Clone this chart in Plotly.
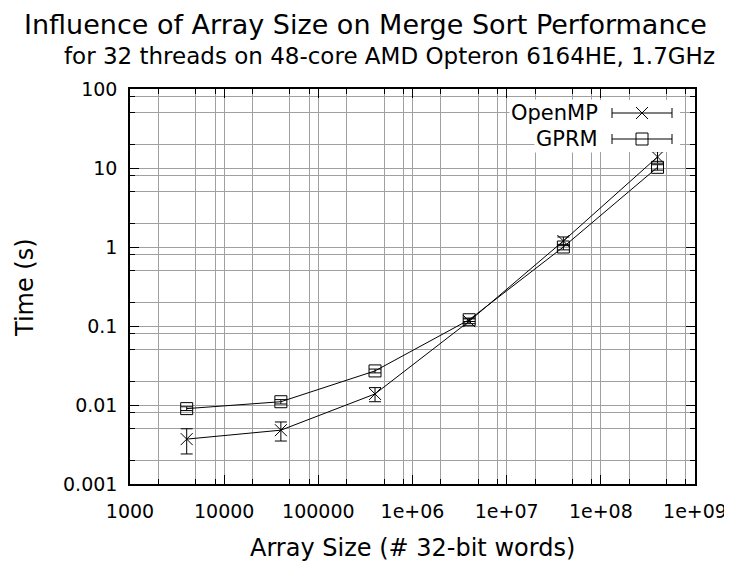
import plotly.graph_objects as go

# ---- data ----
array_sizes = [4000, 40000, 400000, 4000000, 40000000, 400000000]
openmp_time = [0.0037, 0.0048, 0.0138, 0.115, 1.19, 13.8]
openmp_err = [0.0013, 0.0013, 0.0028, 0.008, 0.15, 2.3]
gprm_time = [0.009, 0.011, 0.027, 0.12, 1.0, 10.2]
gprm_err = [0.0005, 0.0007, 0.0015, 0.006, 0.08, 0.8]

x_tickvals = [1e3, 1e4, 1e5, 1e6, 1e7, 1e8, 1e9]
x_ticktext = ["1000", "10000", "100000", "1e+06", "1e+07", "1e+08", "1e+09"]
y_tickvals = [0.001, 0.01, 0.1, 1, 10, 100]
y_ticktext = ["0.001", "0.01", "0.1", "1", "10", "100"]
minor_steps = [2, 5, 8]

x_minor = [m * 10 ** e for e in range(3, 9) for m in minor_steps]
y_minor = [m * 10.0 ** e for e in range(-3, 2) for m in minor_steps]

FONT = "DejaVu Sans"
GRID = "#a0a0a0"

# page body has an 8px margin; figure is sized to fit the 732x562 window
OFF = 8
FIG_W, FIG_H = 732 - OFF, 562 - OFF
# plot area in window pixels
L, R, T, B = 130, 695, 89, 484
W, H = R - L, B - T

fig = go.Figure()

fig.add_trace(go.Scatter(
    x=array_sizes, y=openmp_time, name="OpenMP", mode="lines+markers",
    line=dict(color="black", width=1),
    marker=dict(symbol="x-thin-open", size=12, color="black", line=dict(color="black", width=1)),
    error_y=dict(type="data", array=openmp_err, color="black", thickness=1, width=6),
    showlegend=False,
))
fig.add_trace(go.Scatter(
    x=array_sizes, y=gprm_time, name="GPRM", mode="lines+markers",
    line=dict(color="black", width=1),
    marker=dict(symbol="square-open", size=12, color="black", line=dict(color="black", width=1)),
    error_y=dict(type="data", array=gprm_err, color="black", thickness=1, width=6),
    showlegend=False,
))

axis_common = dict(
    type="log", showline=True, linecolor="black", linewidth=1.5, mirror="ticks",
    ticks="inside", ticklen=9, tickwidth=1, tickcolor="black",
    showgrid=True, gridcolor=GRID, gridwidth=1, zeroline=False, automargin=False,
    tickfont=dict(family=FONT, size=19, color="black"),
)

fig.update_xaxes(
    **axis_common, range=[3, 9], tickmode="array", tickvals=x_tickvals, ticktext=x_ticktext,
    minor=dict(tickmode="array", tickvals=x_minor, ticks="inside", ticklen=5,
               tickcolor="black", showgrid=True, gridcolor=GRID, gridwidth=1),
    ticklabelstandoff=9,
)
fig.update_yaxes(
    **axis_common, range=[-3, 2], tickmode="array", tickvals=y_tickvals, ticktext=y_ticktext,
    minor=dict(tickmode="array", tickvals=y_minor, ticks="inside", ticklen=5,
               tickcolor="black", showgrid=True, gridcolor=GRID, gridwidth=1),
    ticklabelstandoff=7,
)


def px(xp):
    return (xp - L) / W


def py(yp):
    return (B - yp) / H


# ---- titles ----
fig.add_annotation(text="Influence of Array Size on Merge Sort Performance", xref="paper", yref="paper",
                   x=px(365), y=py(24), xanchor="center", yanchor="middle", showarrow=False, borderpad=0,
                   font=dict(family=FONT, size=27, color="black"))
fig.add_annotation(text="for 32 threads on 48-core AMD Opteron 6164HE, 1.7GHz", xref="paper", yref="paper",
                   x=px(389), y=py(56), xanchor="center", yanchor="middle", showarrow=False,
                   font=dict(family=FONT, size=23, color="black"))
fig.add_annotation(text="Array Size (# 32-bit words)", xref="paper", yref="paper",
                   x=px(412), y=py(548), xanchor="center", yanchor="middle", showarrow=False,
                   font=dict(family=FONT, size=24, color="black"))
fig.add_annotation(text="Time (s)", xref="paper", yref="paper", textangle=-90,
                   x=px(25), y=py(288), xanchor="center", yanchor="middle", showarrow=False,
                   font=dict(family=FONT, size=24, color="black"))

# ---- key (legend) ----
fig.add_shape(type="rect", xref="paper", yref="paper", x0=px(596), x1=px(680),
              y0=py(152), y1=py(100), fillcolor="white", line=dict(width=0), layer="above")
key_rows = [("OpenMP", 113, "x"), ("GPRM", 139, "s")]
for label, yrow, sym in key_rows:
    fig.add_annotation(text=label, xref="paper", yref="paper", x=px(600), y=py(yrow),
                       xanchor="right", yanchor="middle", showarrow=False, bgcolor="white",
                       font=dict(family=FONT, size=21, color="black"))
    fig.add_shape(type="line", xref="paper", yref="paper", x0=px(612), x1=px(672), y0=py(yrow), y1=py(yrow),
                  line=dict(color="black", width=1), layer="above")
    for xc in (612, 672):
        fig.add_shape(type="line", xref="paper", yref="paper", x0=px(xc), x1=px(xc), y0=py(yrow - 5), y1=py(yrow + 5),
                      line=dict(color="black", width=1), layer="above")
    if sym == "x":
        fig.add_shape(type="line", xref="paper", yref="paper", x0=px(636), x1=px(648), y0=py(yrow - 6), y1=py(yrow + 6),
                      line=dict(color="black", width=1), layer="above")
        fig.add_shape(type="line", xref="paper", yref="paper", x0=px(636), x1=px(648), y0=py(yrow + 6), y1=py(yrow - 6),
                      line=dict(color="black", width=1), layer="above")
    else:
        fig.add_shape(type="rect", xref="paper", yref="paper", x0=px(636), x1=px(648), y0=py(yrow - 6), y1=py(yrow + 6),
                      line=dict(color="black", width=1), fillcolor="rgba(0,0,0,0)", layer="above")

fig.update_layout(
    width=FIG_W, height=FIG_H,
    margin=dict(l=L - OFF, r=FIG_W - (R - OFF), t=T - OFF, b=FIG_H - (B - OFF)),
    paper_bgcolor="white", plot_bgcolor="white",
    font=dict(family=FONT, color="black"),
    showlegend=False,
)

fig.write_html("out.html")
